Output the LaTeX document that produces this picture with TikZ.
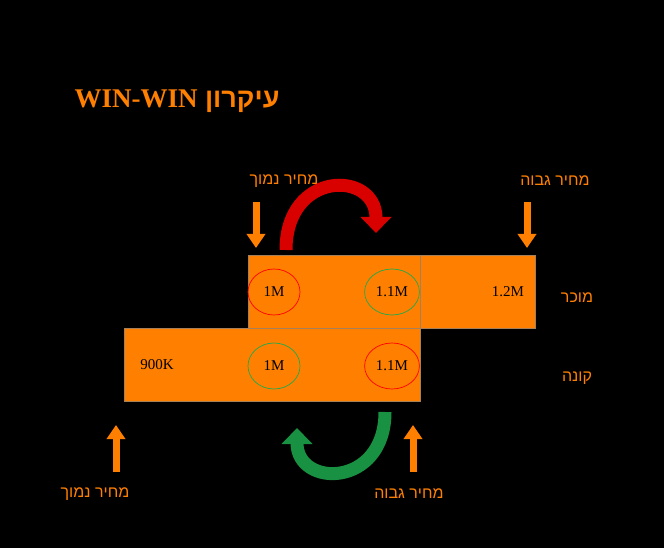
\documentclass[tikz,border=0pt]{standalone}
\usepackage{fontspec}
\setmainfont{Liberation Serif}
\newfontfamily\hebfont[Script=Hebrew]{Liberation Sans}
\TeXXeTstate=1
\usetikzlibrary{positioning, arrows.meta}
\definecolor{orng}{HTML}{FF8000}
\definecolor{okgreen}{HTML}{1DAA4E}
\tikzset{
    cell/.style={fill=orng, draw=gray!70!orng, line width=0.6pt},
    price/.style={ellipse, minimum width=52pt, minimum height=46pt, draw=#1, line width=0.7pt, font=\fontsize{15}{15}\selectfont},
    amount/.style={font=\fontsize{15}{15}\selectfont},
    heb/.style={text=orng, font=\hebfont\fontsize{16}{16}\selectfont},
    pricearrow/.style={orng, line width=7pt, -{Triangle[width=18pt,length=14pt]}},
}
\usetikzlibrary{shapes.geometric}
\begin{document}
\begin{tikzpicture}[x=1pt,y=-1pt]
    \useasboundingbox[fill=black] (0,0) rectangle (664,548);
    \node(title) at (177,101) {\textcolor{orng}{\bfseries\fontsize{27}{27}\selectfont\beginR\hebfont עיקרון \beginL\rmfamily WIN-WIN\endL\endR}};
    % boxes
    \draw[cell] (248,255) rectangle (420,328);
    \draw[cell] (420,255) rectangle (535,328);
    \draw[cell] (124,328) rectangle (420,401);
    \node[price=red](sell_low) at (274,292) {1M};
    \node[price=okgreen](sell_high) at (392,292) {1.1M};
    \node[price=okgreen](buy_low) at (274,366) {1M};
    \node[price=red](buy_high) at (392,366) {1.1M};
    \node[amount](buy_min) at (157,365) {900K};
    \node[amount](sell_max) at (508,292) {1.2M};
    \node[heb](seller) at (577,298) {\beginR מוכר\endR};
    \node[heb](buyer) at (577,378) {\beginR קונה\endR};
    % labels
    \node[heb](lbl1) at (284,181) {\beginR מחיר נמוך\endR};
    \node[heb](lbl2) at (555,181) {\beginR מחיר גבוה\endR};
    \node[heb](lbl3) at (95,494) {\beginR מחיר נמוך\endR};
    \node[heb](lbl4) at (409,494) {\beginR מחיר גבוה\endR};
    \coordinate (a1) at (256,248); \coordinate (a2) at (527,248);
    \coordinate (a3) at (116,425); \coordinate (a4) at (413,425);
    \draw[pricearrow] (256,202) -- (a1);
    \draw[pricearrow] (527,202) -- (a2);
    \draw[pricearrow] (116,472) -- (a3);
    \draw[pricearrow] (413,472) -- (a4);
    % curved arrows
    \coordinate (r1) at (286,250); \coordinate (r2) at (376,249);
    \draw[red!85!black, line width=13pt, -{Triangle[width=30pt,length=16pt]}]
        (r1) .. controls (286,170) and (376,170) .. (376,233);
    \coordinate (g1) at (385,412); \coordinate (g2) at (297,412);
    \draw[okgreen!85!black, line width=13pt, -{Triangle[width=30pt,length=16pt]}]
        (g1) .. controls (385,488) and (297,488) .. (297,428);
\end{tikzpicture}
\end{document}
